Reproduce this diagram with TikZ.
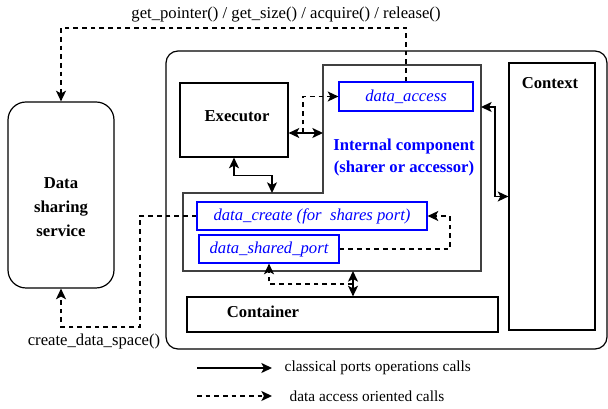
\documentclass[tikz,border=0pt]{standalone}
\usepackage{fontspec}
\setmainfont{Liberation Serif}
\usetikzlibrary{arrows.meta}

\tikzset{
  box/.style={draw,line width=0.9pt,inner sep=0pt},
  portbox/.style={draw=blue,line width=0.9pt,inner sep=0pt,text=blue,
    font=\fontsize{12.5}{15}\selectfont\itshape},
  title/.style={font=\fontsize{12.5}{16.5}\selectfont\bfseries,align=center},
  call/.style={font=\fontsize{12.5}{15}\selectfont},
  link/.style={line width=1.1pt},
  dlink/.style={line width=1.1pt,dash pattern=on 3.5pt off 3pt},
}

\begin{document}
\begin{tikzpicture}[x=0.75pt,y=-0.75pt,>={Stealth[length=8pt,width=7.5pt,inset=2pt]}]
\useasboundingbox (0,0) rectangle (608,409);
% data sharing service
\node[box,rounded corners=13.5pt,minimum width=79.5pt,minimum height=139.5pt] (service) at (61,195) {};
\node[title,font=\fontsize{12.5}{18}\selectfont\bfseries] (dss) at (61,207) {Data\\sharing\\service};
% component
\draw[line width=0.9pt,rounded corners=9pt] (166,51) rectangle (607,349);
\draw[line width=0.8pt,draw=black!75] (323,65) -- (481,65) -- (481,271) -- (183,271) -- (183,193) -- (323,193) -- cycle;
\node[title,text=blue] (ic) at (404,157) {Internal component\\(sharer or accessor)};
\coordinate (ic-w) at (323,133);
\coordinate (ic-n) at (272,193);
\coordinate (ic-e) at (481,107);
\coordinate (ic-s) at (353,271);
\coordinate (split) at (303,133);
\coordinate (turn) at (353,284);
%
\node[box,minimum width=81pt,minimum height=55.5pt] (exec) at (234,120) {};
\node[title] (exc) at (237,116) {Executor};
\node[portbox,minimum width=100.5pt,minimum height=21.75pt] (access) at (406,96.5) {data\_access};
\node[portbox,minimum width=172.5pt,minimum height=21pt] (create) at (312,216) {data\_create (for~ shares port)};
\node[portbox,minimum width=105pt,minimum height=21pt] (shared) at (269,249) {data\_shared\_port};
\node[box,minimum width=233.25pt,minimum height=26.25pt] (container) at (342.5,314.5) {};
\node[title] (ctn) at (263,312) {Container};
\node[box,minimum width=64.5pt,minimum height=200.25pt] (context) at (552,196.5) {};
\node[title] (ctx) at (550,83) {Context};
% classical calls
\draw[link,<->] (exec.east |- ic-w) -- (ic-w);
\draw[link,<->] (exec.south) -- ++(0,18) -| (ic-n);
\draw[link,<->] (ic-e) -- ++(14,0) |- (context.west);
\draw[link,<->] (ic-s) -- (ic-s |- container.north);
% data access calls
\draw[dlink,->] (split) |- (access.west);
\draw[dlink,->] (access.north) -- (406,28) -| (service.north);
\node[call] (getlbl) at (286,15) {get\_pointer() / get\_size() / acquire() / release()};
\draw[dlink,->] (shared.east) -- (450,249) |- (create.east);
\draw[dlink,->] (turn) -| (shared.south);
\draw[dlink,->] (create.west) -- (140,216) -- (140,327) -| (service.south);
\node[call] (cdslbl) at (94,341) {create\_data\_space()};
% legend
\coordinate (la) at (197,368);
\coordinate (lb) at (272,368);
\coordinate (lc) at (197,396);
\coordinate (ld) at (272,396);
\draw[link,->] (la) -- (lb);
\draw[dlink,->] (lc) -- (ld);
\node[call,font=\fontsize{11.5}{14}\selectfont,anchor=west] (l1) at (280,368) {classical ports operations calls};
\node[call,font=\fontsize{11.5}{14}\selectfont,anchor=west] (l2) at (285,396) {data access oriented calls};
\end{tikzpicture}
\end{document}
